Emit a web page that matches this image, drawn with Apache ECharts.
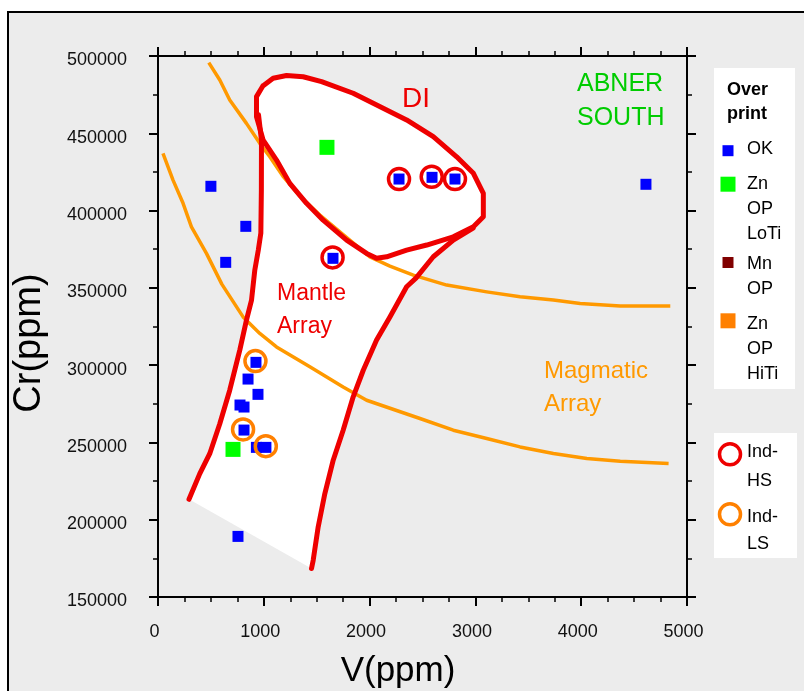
<!DOCTYPE html>
<html><head><meta charset="utf-8">
<script src="https://cdn.jsdelivr.net/npm/echarts@6/dist/echarts.min.js"></script>
<style>html,body{margin:0;padding:0;background:#fff}#c{width:804px;height:691px}</style>
</head><body><div id="c"></div>
<script>
// ---- axes ----
const xTicks = [0, 1000, 2000, 3000, 4000, 5000];
const yTicks = [150000, 200000, 250000, 300000, 350000, 400000, 450000, 500000];
const xTitle = 'V(ppm)';
const yTitle = 'Cr(ppm)';

// ---- sample points (V, Cr) ----
const okPts = [[500,415700],[830,389800],[640,366500],[1654,369100],[2278,420400],[2590,421500],[2807,420400],[4612,417000],[926,301800],[851,291000],[945,281100],[775,274200],[813,272900],[813,258000],[930,246800],[1020,246800],[756,189200]];
const znLoTiPts = [[1597,440900],[709,245500]];
const mnPts = [];
const znHiTiPts = [];
const indHSPts = [[2278,420400],[2587,421900],[2807,420400],[1650,369700]];
const indLSPts = [[921,302600],[804,258400],[1019,247600]];

// ---- field boundaries (V, Cr) ----
const diOutline = [[991,480600],[1088,485600],[1215,487400],[1372,486600],[1546,483400],[1845,475900],[2034,469400],[2350,458600],[2602,447800],[2823,434800],[2981,424100],[3075,411100],[3075,396000],[2981,389500],[2791,383000],[2540,377700],[2350,374400],[2161,370100],[2066,369100],[1972,372300],[1783,380900],[1561,393800],[1404,404700],[1246,417600],[1120,432700],[994,445600],[931,460700],[931,473700],[991,480600]];
const mantleLeft = [[293,213200],[395,229800],[489,242700],[584,262100],[678,283800],[773,309700],[836,329100],[884,342100],[915,361500],[948,374400],[972,385400],[977,413300],[978,445600],[950,462000]];
const mantleRight = [[1451,168400],[1467,173800],[1514,195300],[1577,216900],[1656,238500],[1750,257900],[1845,279500],[1940,296700],[2066,316200],[2192,331200],[2350,350700],[2438,356300],[2602,370100],[2791,380900],[2978,388700]];
const magmaUpper = [[480,495700],[584,484500],[678,471500],[836,456400],[962,443500],[1057,434800],[1180,422300],[1341,409400],[1530,397100],[1767,383500],[2003,370100],[2192,364100],[2413,358200],[2729,351800],[3107,347400],[3422,344200],[3737,342100],[3990,339900],[4369,338200],[4842,338200]];
const magmaLower = [[47,437000],[142,419700],[237,404700],[316,389500],[458,372300],[603,352400],[804,331200],[962,320500],[1120,311800],[1435,298900],[1750,285900],[1972,277300],[2476,265500],[2791,257900],[3107,252500],[3422,247100],[3737,242800],[4053,239600],[4369,237800],[4826,236400]];

// ---- texts ----
const legendTitle = ['Over', 'print'];
const legendItems = [['OK'], ['Zn','OP','LoTi'], ['Mn','OP'], ['Zn','OP','HiTi']];
const legendItems2 = [['Ind-','HS'], ['Ind-','LS']];

const FONT = '"Liberation Sans", Arial, Helvetica, sans-serif';
const RED = '#ee0000', ORANGE_L = '#ff9900', ORANGE = '#ff8000', BLUE = '#0000ff', GREEN = '#00ff00', MAROON = '#800000';

const whitePolys = [diOutline, mantleLeft.concat(mantleRight.slice().reverse())];

const chart = echarts.init(document.getElementById('c'), null, {renderer: 'canvas'});

function axisCommon(extra) {
  return Object.assign({
    type: 'value',
    axisLine: {show: true, onZero: false, lineStyle: {color: '#000', width: 2}},
    axisTick: {show: true, inside: false, length: 9, lineStyle: {color: '#000', width: 2}},
    splitLine: {show: false},
    minorSplitLine: {show: false}
  }, extra);
}

const graphics = [
  {type: 'rect', z: -100, silent: true, shape: {x: 8, y: 12, width: 900, height: 800}, style: {fill: '#ececec', stroke: '#000', lineWidth: 2}},
  // axis titles
  {type: 'text', z: 50, x: 398, y: 671, style: {text: xTitle, fill: '#000', font: '35px ' + FONT, align: 'center', verticalAlign: 'middle'}},
  {type: 'text', z: 50, x: 30, y: 343, rotation: Math.PI / 2, style: {text: yTitle, fill: '#000', font: '38px ' + FONT, align: 'center', verticalAlign: 'middle'}},
  // annotations
  {type: 'text', z: 50, x: 402, y: 99.5, style: {text: 'DI', fill: RED, font: '28px ' + FONT, verticalAlign: 'middle'}},
  {type: 'text', z: 50, x: 277, y: 294, style: {text: 'Mantle', fill: RED, font: '23px ' + FONT, verticalAlign: 'middle'}},
  {type: 'text', z: 50, x: 277, y: 327, style: {text: 'Array', fill: RED, font: '23px ' + FONT, verticalAlign: 'middle'}},
  {type: 'text', z: 50, x: 544, y: 371, style: {text: 'Magmatic', fill: ORANGE_L, font: '24px ' + FONT, verticalAlign: 'middle'}},
  {type: 'text', z: 50, x: 544, y: 404, style: {text: 'Array', fill: ORANGE_L, font: '24px ' + FONT, verticalAlign: 'middle'}},
  {type: 'text', z: 50, x: 577, y: 84, style: {text: 'ABNER', fill: '#00cc00', font: '25px ' + FONT, verticalAlign: 'middle'}},
  {type: 'text', z: 50, x: 577, y: 118, style: {text: 'SOUTH', fill: '#00cc00', font: '25px ' + FONT, verticalAlign: 'middle'}},
  // legend boxes
  {type: 'rect', z: 40, silent: true, shape: {x: 714, y: 68, width: 81, height: 321}, style: {fill: '#fff'}},
  {type: 'rect', z: 40, silent: true, shape: {x: 714, y: 433, width: 83, height: 125}, style: {fill: '#fff'}},
  {type: 'text', z: 50, x: 727, y: 90.5, style: {text: legendTitle[0], fill: '#000', font: 'bold 18px ' + FONT, verticalAlign: 'middle'}},
  {type: 'text', z: 50, x: 727, y: 114.5, style: {text: legendTitle[1], fill: '#000', font: 'bold 18px ' + FONT, verticalAlign: 'middle'}}
];

// legend 1 markers and texts
const leg1 = [
  {cy: 150.7, size: 11, color: BLUE, lines: [149.5]},
  {cy: 184.2, size: 15, color: GREEN, lines: [184.4, 209.4, 234.4]},
  {cy: 262.5, size: 11, color: MAROON, lines: [264, 289.4]},
  {cy: 320.8, size: 15, color: ORANGE, lines: [323.7, 348.7, 374]}
];
leg1.forEach((it, i) => {
  graphics.push({type: 'rect', z: 50, shape: {x: 728 - it.size / 2, y: it.cy - it.size / 2, width: it.size, height: it.size}, style: {fill: it.color}});
  legendItems[i].forEach((t, j) => {
    graphics.push({type: 'text', z: 50, x: 747, y: it.lines[j], style: {text: t, fill: '#000', font: '18px ' + FONT, verticalAlign: 'middle'}});
  });
});
const leg2 = [
  {cy: 454.3, color: RED, lines: [452.4, 480.7]},
  {cy: 514.3, color: ORANGE, lines: [517, 544]}
];
leg2.forEach((it, i) => {
  graphics.push({type: 'circle', z: 50, shape: {cx: 730, cy: it.cy, r: 10.5}, style: {fill: 'none', stroke: it.color, lineWidth: 3.5}});
  legendItems2[i].forEach((t, j) => {
    graphics.push({type: 'text', z: 50, x: 747, y: it.lines[j], style: {text: t, fill: '#000', font: '18px ' + FONT, verticalAlign: 'middle'}});
  });
});

const xMinor = {show: true, splitNumber: 4, length: 5, lineStyle: {color: '#000', width: 1.5}};
const yMinor = {show: true, splitNumber: 2, length: 5, lineStyle: {color: '#000', width: 1.5}};

const option = {
  animation: false,
  backgroundColor: '#fff',
  grid: {left: 158, right: 117, top: 56, bottom: 94, containLabel: false},
  xAxis: [
    axisCommon({position: 'bottom', min: xTicks[0], max: xTicks[xTicks.length - 1], interval: 1000, minorTick: xMinor,
      axisLabel: {margin: 26, color: '#111', fontFamily: FONT, fontSize: 18,
        formatter: v => '{a|' + String(v) + '}',
        rich: {a: {fontSize: 18, fontFamily: FONT, color: '#111', padding: [0, 7, 0, 0]}}}}),
    axisCommon({position: 'top', min: xTicks[0], max: xTicks[xTicks.length - 1], interval: 1000, minorTick: xMinor,
      axisLabel: {show: false}})
  ],
  yAxis: [
    axisCommon({position: 'left', min: yTicks[0], max: yTicks[yTicks.length - 1], interval: 50000, minorTick: yMinor,
      axisLabel: {margin: 31, color: '#111', fontFamily: FONT, fontSize: 18, verticalAlign: 'top', lineHeight: 9,
        formatter: v => String(v)}}),
    axisCommon({position: 'right', min: yTicks[0], max: yTicks[yTicks.length - 1], interval: 50000, minorTick: yMinor,
      axisLabel: {show: false}})
  ],
  graphic: graphics,
  series: [
    {type: 'custom', z: 1, silent: true, clip: false,
      data: whitePolys.map(p => p[0]),
      renderItem: function (params, api) {
        const pts = whitePolys[params.dataIndex].map(p => api.coord(p));
        return {type: 'polygon', shape: {points: pts}, style: {fill: '#ffffff', stroke: null}};
      }},
    {type: 'line', z: 2, silent: true, symbol: 'none', data: magmaUpper, lineStyle: {color: ORANGE_L, width: 3.5, join: 'round'}},
    {type: 'line', z: 2, silent: true, symbol: 'none', data: magmaLower, lineStyle: {color: ORANGE_L, width: 3.5, join: 'round'}},
    {type: 'line', z: 3, silent: true, symbol: 'none', data: mantleLeft, lineStyle: {color: RED, width: 5, join: 'round', cap: 'round'}},
    {type: 'line', z: 3, silent: true, symbol: 'none', data: mantleRight, lineStyle: {color: RED, width: 5, join: 'round', cap: 'round'}},
    {type: 'line', z: 3, silent: true, symbol: 'none', data: diOutline, lineStyle: {color: RED, width: 5, join: 'round', cap: 'round'}},
    {name: 'OK', type: 'scatter', z: 5, symbol: 'rect', symbolSize: 11, itemStyle: {color: BLUE, opacity: 1}, data: okPts},
    {name: 'Zn OP LoTi', type: 'scatter', z: 5, symbol: 'rect', symbolSize: 15, itemStyle: {color: GREEN, opacity: 1}, data: znLoTiPts},
    {name: 'Mn OP', type: 'scatter', z: 5, symbol: 'rect', symbolSize: 11, itemStyle: {color: MAROON, opacity: 1}, data: mnPts},
    {name: 'Zn OP HiTi', type: 'scatter', z: 5, symbol: 'rect', symbolSize: 15, itemStyle: {color: ORANGE, opacity: 1}, data: znHiTiPts},
    {name: 'Ind-HS', type: 'scatter', z: 6, symbol: 'circle', symbolSize: 21, itemStyle: {color: 'rgba(0,0,0,0)', borderColor: RED, borderWidth: 3.5, opacity: 1}, data: indHSPts},
    {name: 'Ind-LS', type: 'scatter', z: 6, symbol: 'circle', symbolSize: 21, itemStyle: {color: 'rgba(0,0,0,0)', borderColor: ORANGE, borderWidth: 3.5, opacity: 1}, data: indLSPts}
  ]
};
chart.setOption(option);
</script>
</body></html>
